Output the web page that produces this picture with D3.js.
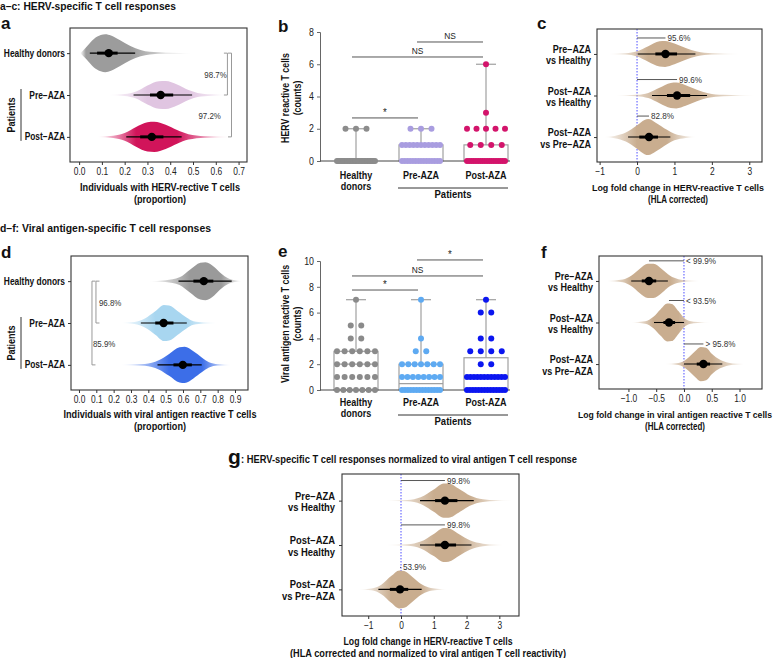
<!DOCTYPE html>
<html><head><meta charset="utf-8">
<script src="https://cdn.jsdelivr.net/npm/d3@7"></script>
<style>
body{margin:0;background:#fff}
svg{display:block}
text{font-family:"Liberation Sans",Arial,Helvetica,sans-serif}
</style>
</head><body><svg id="chart" width="782" height="658"></svg>
<script>
// ---------------- DATA ----------------
// Panel a: proportion of individuals with HERV-reactive T cells (posterior violins)
const aGroups = [["Healthy donors"], ["Pre\u2212AZA"], ["Post\u2212AZA"]];
const aColors = ["#9c9c9c", "#e0c5e1", "#d1145a"];
const aTicks = [0, 0.1, 0.2, 0.3, 0.4, 0.5, 0.6, 0.7];
const aMedian = [0.13, 0.358, 0.319];
const aCI95 = [[0.047, 0.246], [0.239, 0.496], [0.207, 0.45]];
const aCI50 = [[0.079, 0.169], [0.311, 0.413], [0.268, 0.37]];
const aPeak = [1.0, 0.74, 0.79];
const aProfHealthy = [[0.005,0],[0.03,0.3],[0.065,0.75],[0.095,0.95],[0.115,1],[0.14,0.93],[0.18,0.68],[0.225,0.38],[0.27,0.17],[0.31,0.07],[0.38,0.025],[0.5,0]];
const aProfPre = [[0.12,0],[0.2,0.07],[0.25,0.25],[0.3,0.68],[0.35,0.98],[0.38,1],[0.43,0.75],[0.48,0.35],[0.52,0.15],[0.58,0.05],[0.66,0]];
const aProfPost = [[0.08,0],[0.15,0.07],[0.2,0.25],[0.25,0.65],[0.3,0.97],[0.33,1],[0.38,0.8],[0.43,0.45],[0.48,0.18],[0.55,0.05],[0.67,0]];
const aBrackets = [{from:0, to:1, at:0.651, label:"98.7%", labelAt:0.599},
                   {from:0, to:2, at:0.669, label:"97.2%", labelAt:0.573}];

// Panel b: HERV reactive T cell counts  [value, number of individuals]
const bGroups = [["Healthy","donors"], ["Pre-AZA"], ["Post-AZA"]];
const bColors = ["#8c8c8c", "#a99de0", "#d3146b"];
const bTicks = [0, 2, 4, 6, 8];
const bHealthy = [[0,26],[2,3]];
const bPre = [[0,15],[1,11],[2,3]];
const bPost = [[0,18],[1,4],[2,5],[3,1],[6,1]];
const bBoxStats = [[0,0,0,2],[0,0,1,2],[0,0,1,6]]; // q1, median, q3, max
const bSig = [{a:0,b:1,at:2.67,label:"*"},{a:0,b:2,at:6.45,label:"NS"},{a:1,b:2,at:7.38,label:"NS"}];

// Panel c: log fold change in HERV-reactive T cells
const cGroups = [["Pre\u2212AZA","vs Healthy"], ["Post\u2212AZA","vs Healthy"], ["Post\u2212AZA","vs Pre\u2212AZA"]];
const cTicks = [-1, 0, 1, 2, 3];
const cMedian = [0.76, 1.07, 0.32];
const cCI95 = [[0.02,1.56],[0.4,1.87],[-0.24,0.89]];
const cCI50 = [[0.49,1.07],[0.8,1.42],[0.06,0.56]];
const cPeak = [0.72, 0.72, 1.0];
const cProf1 = [[-0.8,0],[-0.3,0.05],[0,0.2],[0.3,0.6],[0.6,0.97],[0.75,1],[1.0,0.8],[1.3,0.45],[1.6,0.18],[2.0,0.05],[2.8,0]];
const cProf2 = [[-0.6,0],[0,0.05],[0.3,0.2],[0.6,0.6],[0.9,0.97],[1.05,1],[1.3,0.8],[1.6,0.45],[1.9,0.18],[2.3,0.05],[3.2,0]];
const cProf3 = [[-0.9,0],[-0.6,0.06],[-0.3,0.25],[0,0.65],[0.2,0.95],[0.3,1],[0.5,0.8],[0.8,0.4],[1.0,0.18],[1.3,0.05],[1.6,0]];
const cLabels = ["95.6%", "99.6%", "82.8%"];

// Panel d: proportion with viral antigen reactive T cells
const dGroups = [["Healthy donors"], ["Pre\u2212AZA"], ["Post\u2212AZA"]];
const dColors = ["#9a9a9a", "#a8d6f0", "#3c6ee8"];
const dTicks = [0, 0.1, 0.2, 0.3, 0.4, 0.5, 0.6, 0.7, 0.8, 0.9];
const dMedian = [0.72, 0.488, 0.599];
const dCI95 = [[0.574,0.881],[0.357,0.622],[0.453,0.708]];
const dCI50 = [[0.66,0.775],[0.44,0.545],[0.545,0.651]];
const dPeak = [1.0, 0.95, 0.95];
const dProfHealthy = [[0.4,0],[0.5,0.05],[0.58,0.2],[0.64,0.6],[0.7,0.97],[0.73,1],[0.78,0.75],[0.82,0.4],[0.86,0.15],[0.9,0.04],[0.94,0]];
const dProfPre = [[0.24,0],[0.32,0.05],[0.38,0.25],[0.44,0.65],[0.49,1],[0.52,0.97],[0.57,0.65],[0.62,0.3],[0.66,0.1],[0.72,0.03],[0.8,0]];
const dProfPost = [[0.24,0],[0.38,0.05],[0.46,0.25],[0.52,0.6],[0.58,0.97],[0.61,1],[0.66,0.75],[0.71,0.4],[0.75,0.15],[0.8,0.04],[0.88,0]];
const dBrackets = [{from:0, to:1, at:0.098, label:"96.8%", labelAt:0.18},
                   {from:0, to:2, at:0.075, label:"85.9%", labelAt:0.145}];

// Panel e: viral antigen reactive T cell counts
const eGroups = [["Healthy","donors"], ["Pre-AZA"], ["Post-AZA"]];
const eColors = ["#8a8a8a", "#5eaaf2", "#0b16f0"];
const eTicks = [0, 2, 4, 6, 8, 10];
const eHealthy = [[0,7],[1,6],[2,6],[3,6],[4,2],[5,2],[7,1]];
const ePre = [[0,14],[1,8],[2,7],[3,2],[4,1],[7,1]];
const ePost = [[0,14],[1,12],[2,2],[3,4],[4,2],[6,2],[7,1]];
const eBoxStats = [[0,2,3,7],[0,0.5,2,7],[0,1,2.5,7]];
const eSig = [{a:0,b:1,at:7.75,label:"*"},{a:0,b:2,at:8.84,label:"NS"},{a:1,b:2,at:10.08,label:"*"}];

// Panel f: log fold change in viral antigen reactive T cells
const fGroups = cGroups;
const fTicks = [-1.0, -0.5, 0.0, 0.5, 1.0];
const fMedian = [-0.63, -0.27, 0.35];
const fCI95 = [[-0.95,-0.29],[-0.54,0.0],[0.0,0.69]];
const fCI50 = [[-0.76,-0.5],[-0.37,-0.16],[0.23,0.47]];
const fPeak = [0.9, 1.0, 0.9];
const fProf1 = [[-1.4,0],[-1.1,0.08],[-0.95,0.3],[-0.8,0.7],[-0.65,1],[-0.55,1],[-0.4,0.7],[-0.25,0.3],[-0.1,0.1],[0.05,0.03],[0.3,0]];
const fProf2 = [[-0.95,0],[-0.7,0.06],[-0.55,0.3],[-0.42,0.7],[-0.3,1],[-0.22,0.98],[-0.1,0.6],[0.0,0.25],[0.1,0.08],[0.25,0.02],[0.5,0]];
const fProf3 = [[-0.35,0],[-0.1,0.06],[0.05,0.3],[0.2,0.75],[0.3,1],[0.4,0.95],[0.5,0.6],[0.65,0.25],[0.8,0.08],[0.95,0.02],[1.2,0]];
const fLabels = ["< 99.9%", "< 93.5%", "> 95.8%"];

// Panel g: normalized log fold change
const gGroups = cGroups;
const gTicks = [-1, 0, 1, 2, 3];
const gMedian = [1.34, 1.34, -0.03];
const gCI95 = [[0.58,2.22],[0.58,2.15],[-0.69,0.63]];
const gCI50 = [[1.04,1.72],[1.04,1.68],[-0.34,0.22]];
const gPeak = [0.9, 0.9, 1.0];
const gProf1 = [[-0.5,0],[0.2,0.04],[0.6,0.2],[1.0,0.65],[1.3,1],[1.45,1],[1.8,0.65],[2.1,0.3],[2.5,0.08],[2.9,0.02],[3.4,0]];
const gProf2 = [[-0.5,0],[0.2,0.04],[0.6,0.2],[1.0,0.65],[1.3,1],[1.45,0.98],[1.8,0.6],[2.1,0.28],[2.5,0.08],[2.9,0.02],[3.3,0]];
const gProf3 = [[-1.3,0],[-0.9,0.05],[-0.6,0.25],[-0.3,0.7],[-0.05,1],[0.1,0.97],[0.35,0.65],[0.6,0.3],[0.85,0.1],[1.1,0.03],[1.4,0]];
const gLabels = ["99.8%", "99.8%", "53.9%"];
const tan = "#c9ad8f";

// ---------------- DRAW ----------------
const svg = d3.select("#chart");
svg.append("rect").attr("width", 782).attr("height", 658).attr("fill", "#fff");
const defs = svg.append("defs");
let gid = 0;

function squeeze(sel, f) {
  sel.each(function () {
    const n = this.getComputedTextLength();
    d3.select(this).attr("textLength", n * f).attr("lengthAdjust", "spacingAndGlyphs");
  });
}
function txt(g, x, y, s, o = {}) {
  const t = g.append("text").attr("x", x).attr("y", y).text(s)
    .attr("font-size", o.size || 10).attr("font-weight", o.bold ? "bold" : "normal")
    .attr("text-anchor", o.anchor || "start").attr("fill", o.fill || "#111");
  if (o.tl) t.attr("textLength", o.tl).attr("lengthAdjust", "spacingAndGlyphs");
  else if (o.f) squeeze(t, o.f);
  return t;
}

function violinPanel(c) {
  const g = svg.append("g");
  const [bx0, by0, bx1, by1] = c.box;
  const x = d3.scaleLinear().domain(c.domain).range([bx0, bx1]);
  const y = d3.scalePoint().domain(d3.range(c.groups.length)).range([by0, by1]).padding(0.6);

  if (c.zero) {
    g.append("line").attr("x1", x(0)).attr("x2", x(0)).attr("y1", by0).attr("y2", by1)
      .attr("stroke", "#4d4dff").attr("stroke-width", 1).attr("stroke-dasharray", "1.5,1.5");
  }
  c.profiles.forEach((p, i) => {
    const yc = y(i);
    const id = "vg" + (gid++);
    const xa = x(p[0][0]), xb = x(p[p.length - 1][0]);
    const full = p.filter(d => d[1] >= 0.3);
    const oL = (x(full[0][0]) - xa) / (xb - xa), oR = (x(full[full.length - 1][0]) - xa) / (xb - xa);
    const lg = defs.append("linearGradient").attr("id", id).attr("gradientUnits", "userSpaceOnUse")
      .attr("x1", xa).attr("x2", xb).attr("y1", 0).attr("y2", 0);
    [[0, 0], [oL, 1], [oR, 1], [1, 0]].forEach(([o, op]) =>
      lg.append("stop").attr("offset", o).attr("stop-color", c.colors[i]).attr("stop-opacity", op));
    const hh = c.maxH * c.peak[i];
    const area = d3.area().x(d => x(d[0])).y0(d => yc - d[1] * hh).y1(d => yc + d[1] * hh).curve(d3.curveMonotoneX);
    g.append("path").attr("d", area(p)).attr("fill", `url(#${id})`);
    g.append("line").attr("x1", x(c.ci95[i][0])).attr("x2", x(c.ci95[i][1])).attr("y1", yc).attr("y2", yc)
      .attr("stroke", "#000").attr("stroke-width", 1.1);
    g.append("line").attr("x1", x(c.ci50[i][0])).attr("x2", x(c.ci50[i][1])).attr("y1", yc).attr("y2", yc)
      .attr("stroke", "#000").attr("stroke-width", 3);
    g.append("circle").attr("cx", x(c.median[i])).attr("cy", yc).attr("r", 4.2).attr("fill", "#000");
    if (c.annot) {
      const ay = yc - hh - 3;
      g.append("line").attr("x1", x(0)).attr("x2", x(c.median[i])).attr("y1", ay).attr("y2", ay)
        .attr("stroke", "#444").attr("stroke-width", 0.9);
      txt(g, x(Math.max(0, c.median[i])) + 2, ay + 3, c.annot[i], {size: 9, fill: "#333", f: 0.9});
    }
  });
  g.append("rect").attr("x", bx0).attr("y", by0).attr("width", bx1 - bx0).attr("height", by1 - by0)
    .attr("fill", "none").attr("stroke", "#333").attr("stroke-width", 1.1);
  const ax = g.append("g").attr("transform", `translate(0,${by1})`)
    .call(d3.axisBottom(x).tickValues(c.ticks).tickFormat(c.fmt).tickSize(3).tickPadding(3));
  ax.select(".domain").remove();
  ax.selectAll("line").attr("stroke", "#333");
  ax.selectAll("text").attr("font-size", 10).attr("fill", "#222").attr("font-family", null);
  squeeze(ax.selectAll("text"), 0.84);
  const ay = g.append("g").attr("transform", `translate(${bx0},0)`)
    .call(d3.axisLeft(y).tickSize(3).tickFormat(""));
  ay.select(".domain").remove();
  ay.selectAll("line").attr("stroke", "#333");
  c.groups.forEach((lines, i) => {
    const yc = y(i);
    if (lines.length === 1) txt(g, c.labelX, yc + 3.5, lines[0], {bold: true, anchor: "end", size: 10, f: c.labelF});
    else {
      txt(g, c.labelX, yc - 1, lines[0], {bold: true, anchor: "end", size: 10, f: c.labelF});
      txt(g, c.labelX, yc + 10.5, lines[1], {bold: true, anchor: "end", size: 10, f: c.labelF});
    }
  });
  if (c.patients) {
    g.append("line").attr("x1", 21).attr("x2", 21).attr("y1", y(1) - 6).attr("y2", y(2) + 4)
      .attr("stroke", "#333").attr("stroke-width", 1);
    const my = (y(1) + y(2)) / 2 - 1;
    txt(g, 0, 0, "Patients", {bold: true, anchor: "middle", size: 10, f: 0.9})
      .attr("transform", `translate(15,${my}) rotate(-90)`);
  }
  if (c.brackets) {
    c.brackets.forEach(b => {
      const bxp = x(b.at), t = c.bracketDir * 3.5;
      const ya = y(b.from), yb = y(b.to);
      g.append("path").attr("d", `M${bxp + t},${ya}H${bxp}V${yb}H${bxp + t}`)
        .attr("fill", "none").attr("stroke", "#999").attr("stroke-width", 1);
      const ly = b.to - b.from > 1 ? (y(b.to - 1) + y(b.to)) / 2 : (ya + yb) / 2;
      txt(g, x(b.labelAt), ly + 3.5, b.label, {size: 9, anchor: "middle", fill: "#333", f: 0.88});
    });
  }
  c.title.forEach((t, k) => txt(g, c.titleX, c.titleY + k * 12, t,
    {bold: true, anchor: "middle", size: (c.titleSize || [10, 10])[k], tl: c.titleW[k]}));
}

function boxPanel(c) {
  const g = svg.append("g");
  const y = d3.scaleLinear().domain([0, c.ymax]).range([c.y0, c.y1]);
  const x = d3.scalePoint().domain(d3.range(3)).range([356, 486]);
  const ax = g.append("g").attr("transform", "translate(320,0)")
    .call(d3.axisLeft(y).tickValues(c.ticks).tickSize(3).tickPadding(3));
  ax.select(".domain").attr("stroke", "#666");
  ax.selectAll("line").attr("stroke", "#666");
  ax.selectAll("text").attr("font-size", 10).attr("fill", "#222").attr("font-family", null);
  squeeze(ax.selectAll("text"), 0.88);
  c.stats.forEach((s, i) => {
    const cx = x(i);
    const ln = (x1, y1, x2, y2) => g.append("line").attr("x1", x1).attr("y1", y1).attr("x2", x2).attr("y2", y2)
      .attr("stroke", "#a0a0a0").attr("stroke-width", 1.2);
    if (s[2] > s[0]) g.append("rect").attr("x", cx - 22).attr("y", y(s[2])).attr("width", 44)
      .attr("height", y(s[0]) - y(s[2])).attr("fill", "none").attr("stroke", "#a0a0a0").attr("stroke-width", 1.2);
    if (s[1] > s[0]) ln(cx - 22, y(s[1]), cx + 22, y(s[1]));
    ln(cx, y(s[2]), cx, y(s[3]));
    ln(cx - 10, y(s[3]), cx + 10, y(s[3]));
  });
  g.append("line").attr("x1", 320).attr("x2", 510).attr("y1", y(0)).attr("y2", y(0)).attr("stroke", "#444").attr("stroke-width", 1);
  c.counts.forEach((rows, i) => {
    rows.forEach(([v, n]) => {
      const sp = n > 1 ? Math.min(10.5, 38 / (n - 1)) : 0;
      d3.range(n).forEach(k => {
        g.append("circle").attr("cx", x(i) + (k - (n - 1) / 2) * sp).attr("cy", y(v)).attr("r", 3)
          .attr("fill", c.colors[i]);
      });
    });
  });
  c.sig.forEach(s => {
    const x1 = x(s.a) - 4, x2 = x(s.b) - 3, yy = y(s.at);
    g.append("line").attr("x1", x1).attr("x2", x2).attr("y1", yy).attr("y2", yy).attr("stroke", "#555").attr("stroke-width", 1);
    txt(g, (x1 + x2) / 2, yy - (s.label === "*" ? 2 : 3), s.label,
      {size: s.label === "*" ? 11 : 9.5, anchor: "middle", fill: "#222", f: 0.88});
  });
  c.groups.forEach((lines, i) => lines.forEach((t, k) =>
    txt(g, x(i), c.labY + k * 11, t, {bold: true, anchor: "middle", size: 10, f: 0.9})));
  g.append("line").attr("x1", 398).attr("x2", 508).attr("y1", c.labY + 9).attr("y2", c.labY + 9).attr("stroke", "#333");
  txt(g, 453, c.labY + 19, "Patients", {bold: true, anchor: "middle", size: 10, f: 0.95});
  c.ytitle.forEach((t, k) => txt(g, 0, 0, t, {bold: true, anchor: "middle", size: 10, f: 0.88})
    .attr("transform", `translate(${289 + k * 12},${c.ytY}) rotate(-90)`));
}

// titles & panel letters
txt(svg, 0, 10, "a\u2013c: HERV-specific T cell responses", {bold: true, size: 11, tl: 176});
txt(svg, 0, 232, "d\u2013f: Viral antigen-specific T cell responses", {bold: true, size: 11, tl: 211});
txt(svg, 1, 29, "a", {bold: true, size: 17});
txt(svg, 278, 32, "b", {bold: true, size: 17});
txt(svg, 537, 29, "c", {bold: true, size: 17});
txt(svg, 1, 258, "d", {bold: true, size: 17});
txt(svg, 278, 257, "e", {bold: true, size: 17});
txt(svg, 541, 258, "f", {bold: true, size: 17});
txt(svg, 228, 464, "g", {bold: true, size: 21});
txt(svg, 241, 463, ": HERV-specific T cell responses normalized to viral antigen T cell response", {bold: true, size: 10, tl: 336});

const f1 = d3.format(".1f");
violinPanel({box: [70, 28, 247, 162], domain: [-0.04, 0.737], ticks: aTicks, fmt: f1,
  groups: aGroups, colors: aColors, profiles: [aProfHealthy, aProfPre, aProfPost], peak: aPeak, maxH: 19,
  median: aMedian, ci95: aCI95, ci50: aCI50, labelX: 65, labelF: 0.84, patients: true,
  brackets: aBrackets, bracketDir: -1,
  title: ["Individuals with HERV-rective T cells", "(proportion)"], titleW: [160, 52], titleX: 160, titleY: 191});

boxPanel({ymax: 8, y0: 161, y1: 32, ticks: bTicks, stats: bBoxStats, counts: [bHealthy, bPre, bPost],
  colors: bColors, sig: bSig, groups: bGroups, labY: 179, ytitle: ["HERV reactive T cells", "(counts)"], ytY: 98});

violinPanel({box: [597, 29, 762, 162], domain: [-1.07, 3.34], ticks: cTicks, fmt: d3.format("d"),
  groups: cGroups, colors: [tan, tan, tan], profiles: [cProf1, cProf2, cProf3], peak: cPeak, maxH: 18,
  median: cMedian, ci95: cCI95, ci50: cCI50, labelX: 591, labelF: 0.9, zero: true, annot: cLabels,
  title: ["Log fold change in HERV-reactive T cells", "(HLA corrected)"], titleW: [172, 60], titleSize: [9, 10],
  titleX: 678, titleY: 191});

violinPanel({box: [71, 256, 248, 390], domain: [-0.046, 0.975], ticks: dTicks, fmt: f1,
  groups: dGroups, colors: dColors, profiles: [dProfHealthy, dProfPre, dProfPost], peak: dPeak, maxH: 19,
  median: dMedian, ci95: dCI95, ci50: dCI50, labelX: 65, labelF: 0.84, patients: true,
  brackets: dBrackets, bracketDir: 1,
  title: ["Individuals with viral antigen reactive T cells", "(proportion)"], titleW: [193, 52], titleX: 160, titleY: 418});

boxPanel({ymax: 10, y0: 390, y1: 261, ticks: eTicks, stats: eBoxStats, counts: [eHealthy, ePre, ePost],
  colors: eColors, sig: eSig, groups: eGroups, labY: 406, ytitle: ["Viral antigen reactive T cells", "(counts)"], ytY: 324});

violinPanel({box: [599, 256, 762, 389], domain: [-1.53, 1.405], ticks: fTicks, fmt: f1,
  groups: fGroups, colors: [tan, tan, tan], profiles: [fProf1, fProf2, fProf3], peak: fPeak, maxH: 19,
  median: fMedian, ci95: fCI95, ci50: fCI50, labelX: 593, labelF: 0.9, zero: true, annot: fLabels,
  title: ["Log fold change in viral antigen reactive T cells", "(HLA corrected)"], titleW: [194, 60], titleSize: [8.6, 10],
  titleX: 675, titleY: 418});

violinPanel({box: [342, 474, 519, 616], domain: [-1.8, 3.6], ticks: gTicks, fmt: d3.format("d"),
  groups: gGroups, colors: [tan, tan, tan], profiles: [gProf1, gProf2, gProf3], peak: gPeak, maxH: 19,
  median: gMedian, ci95: gCI95, ci50: gCI50, labelX: 335, labelF: 0.94, zero: true, annot: gLabels,
  title: ["Log fold change in HERV-reactive T cells", "(HLA corrected and normalized to viral antigen T cell reactivity)"],
  titleW: [169, 276], titleX: 428, titleY: 645});
</script>
</body></html>
